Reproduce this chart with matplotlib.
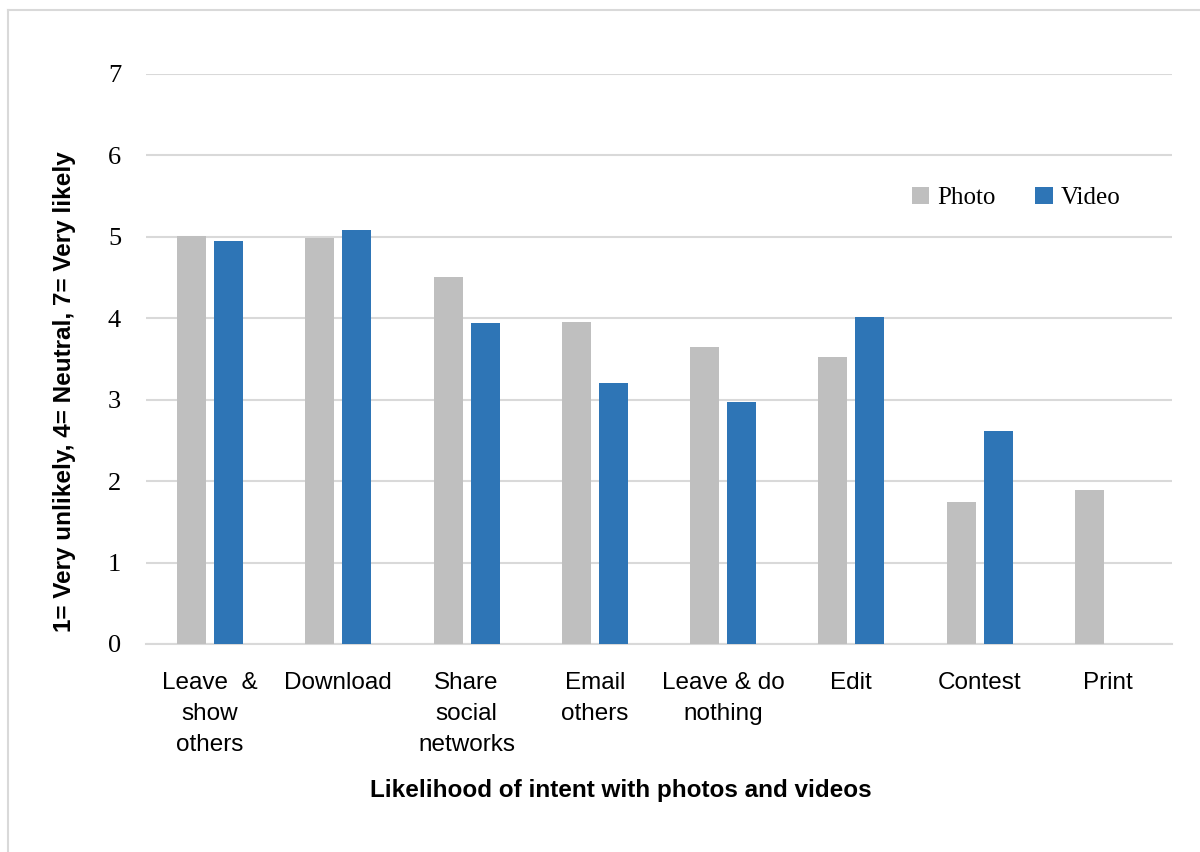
import numpy as np
import matplotlib
matplotlib.use('Agg')
import matplotlib.pyplot as plt
from matplotlib.lines import Line2D

categories = ['Leave  &\nshow\nothers', 'Download', 'Share\nsocial\nnetworks', 'Email\nothers',
              'Leave & do\nnothing', 'Edit', 'Contest', 'Print']
photo = [5.01, 4.99, 4.51, 3.96, 3.65, 3.52, 1.75, 1.89]
video = [4.95, 5.09, 3.94, 3.21, 2.97, 4.01, 2.62, 0.0]
series_names = ['Photo', 'Video']
yticks = [0, 1, 2, 3, 4, 5, 6, 7]

GRAY = '#BFBFBF'
BLUE = '#2E75B6'
GRID = '#D9D9D9'

fig = plt.figure(figsize=(12, 8.52), dpi=100)
ax = fig.add_axes([146/1200, 1 - 644/852, (1172-146)/1200, (644-74)/852])

x = np.arange(len(categories))
w = 0.226
off = 0.144
ax.bar(x - off, photo, width=w, color=GRAY, label=series_names[0], zorder=3)
ax.bar(x + off, video, width=w, color=BLUE, label=series_names[1], zorder=3)

ax.set_xlim(-0.5, len(categories) - 0.5)
ax.set_ylim(0, 7)
ax.set_yticks(yticks)
ax.set_yticklabels([str(t) for t in yticks], fontfamily='Liberation Serif', fontsize=19)
ax.set_xticks(x)
ax.set_xticklabels(categories, fontfamily='Liberation Sans', fontsize=17.5, linespacing=1.55, va='top')
ax.tick_params(axis='both', length=0)
ax.tick_params(axis='y', pad=18)
ax.tick_params(axis='x', pad=20)
ax.grid(axis='y', color=GRID, linewidth=1.5, zorder=0)
for s in ['top', 'right', 'left']:
    ax.spines[s].set_visible(False)
ax.spines['bottom'].set_color(GRID)
ax.spines['bottom'].set_linewidth(1.5)

fig.text(621/1200, 1 - 790/852, 'Likelihood of intent with photos and videos',
         fontfamily='Liberation Sans', fontweight='bold', fontsize=17.5, ha='center', va='center')
fig.text(65/1200, 1 - 392/852, '1= Very unlikely, 4= Neutral, 7= Very likely',
         fontfamily='Liberation Sans', fontweight='bold', fontsize=17.5, ha='center', va='center',
         rotation=90)

leg = ax.legend(loc='center', bbox_to_anchor=(1016/1200, 1 - 198/852), bbox_transform=fig.transFigure,
                ncol=2, frameon=False, handlelength=0.7, handleheight=0.7, handletextpad=0.3,
                columnspacing=1.6, prop={'family': 'Liberation Serif', 'size': 18})

# outer chart border
fig.add_artist(Line2D([8/1200, 8/1200], [0, 1 - 10/852], transform=fig.transFigure, color=GRID, lw=1.5))
fig.add_artist(Line2D([8/1200, 1], [1 - 10/852, 1 - 10/852], transform=fig.transFigure, color=GRID, lw=1.5))

fig.savefig('out.png', dpi=100)
